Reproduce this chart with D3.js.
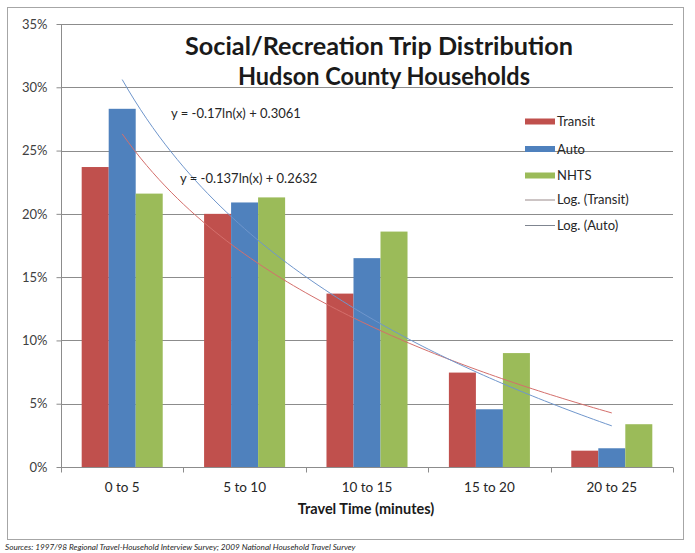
<!DOCTYPE html>
<html><head><meta charset="utf-8">
<script src="https://cdn.jsdelivr.net/npm/d3@7"></script>
<style>body{margin:0;background:#fff} svg{display:block}</style></head>
<body>
<script>
const categories = ["0 to 5","5 to 10","10 to 15","15 to 20","20 to 25"];
const seriesNames = ["Transit","Auto","NHTS"];
const seriesColors = ["#c0504d","#4f81bd","#9bbb59"];
const transit = [0.237,0.200,0.137,0.0746,0.0129];
const auto = [0.283,0.209,0.165,0.0456,0.0148];
const nhts = [0.216,0.213,0.186,0.090,0.0338];
const yTicks = [0,0.05,0.10,0.15,0.20,0.25,0.30,0.35];
const trendNames = ["Log. (Transit)","Log. (Auto)"];
const trendColors = ["#d46f6c","#6f96cc"];
const trendSlope = [-0.137,-0.17];
const trendIntercept = [0.2632,0.3061];
const trendLabels = ["y = -0.137ln(x) + 0.2632","y = -0.17ln(x) + 0.3061"];
const titleLines = ["Social/Recreation Trip Distribution","Hudson County Households"];
const xTitle = "Travel Time (minutes)";
const sourceText = "Sources: 1997/98 Regional Travel-Household Interview Survey; 2009 National Household Travel Survey";

const W = 695, H = 553;
const L = 61, R = 673, T = 24, B = 467;
const font = "Lato, 'Open Sans', sans-serif";

const svg = d3.select("body").append("svg").attr("width", W).attr("height", H)
  .style("font-family", font);

svg.append("rect").attr("x",7.5).attr("y",7.5).attr("width",676).attr("height",532)
  .attr("fill","#fff").attr("stroke","#a6a6a6");

const x = d3.scaleBand().domain(categories).range([L,R]).paddingInner(0.338).paddingOuter(0.169);
const xs = d3.scaleBand().domain(seriesNames).range([0,x.bandwidth()]);
const y = d3.scaleLinear().domain([0,0.35]).range([B,T]);

// gridlines
svg.append("g").selectAll("line").data(yTicks.filter(d=>d>0)).join("line")
  .attr("x1",L).attr("x2",R).attr("y1",d=>Math.round(y(d))+0.5).attr("y2",d=>Math.round(y(d))+0.5)
  .attr("stroke","#8c8c8c").attr("stroke-width",1);

// y axis
const yAxis = d3.axisLeft(y).tickValues(yTicks).tickFormat(d3.format(".0%")).tickSize(5).tickPadding(9);
const gy = svg.append("g").attr("transform",`translate(${L+0.5},0)`).call(yAxis);
gy.select(".domain").attr("stroke","#8c8c8c").attr("d",`M-0,${T}V${B}`);
gy.selectAll(".tick line").attr("stroke","#8c8c8c");
gy.selectAll(".tick text").attr("font-size",13).attr("fill","#404040").attr("font-family",font);

// bars
const data = [transit, auto, nhts];
categories.forEach((c,i)=>{
  seriesNames.forEach((s,j)=>{
    svg.append("rect")
      .attr("x", x(c)+xs(s)).attr("width", xs.bandwidth())
      .attr("y", y(data[j][i])).attr("height", B - y(data[j][i]))
      .attr("fill", seriesColors[j]);
  });
});

// x axis
const gx = svg.append("g").attr("transform",`translate(0,${B+0.5})`);
gx.append("line").attr("x1",L).attr("x2",R).attr("stroke","#8c8c8c");
const bounds = d3.range(categories.length+1).map(i => L + i*x.step());
gx.selectAll(".tk").data(bounds).join("line").attr("class","tk")
  .attr("x1",d=>Math.round(d)+0.5).attr("x2",d=>Math.round(d)+0.5).attr("y1",0).attr("y2",5).attr("stroke","#8c8c8c");
gx.selectAll("text").data(categories).join("text")
  .attr("x",d=>x(d)+x.bandwidth()/2).attr("y",24).attr("text-anchor","middle")
  .attr("font-size",13.5).attr("fill","#262626").text(d=>d);

// trendlines
const xt = d3.scaleLinear().domain([1,categories.length]).range([x(categories[0])+x.bandwidth()/2, x(categories[categories.length-1])+x.bandwidth()/2]);
const tvals = d3.range(1, categories.length+0.0001, 0.05);
trendSlope.forEach((a,k)=>{
  const line = d3.line().x(t=>xt(t)).y(t=>y(a*Math.log(t)+trendIntercept[k])).curve(d3.curveLinear);
  svg.append("path").attr("d", line(tvals)).attr("fill","none")
    .attr("stroke",trendColors[k]).attr("stroke-width",1);
});

// equation labels
svg.append("text").attr("x",171).attr("y",118).attr("font-size",13).attr("fill","#262626").text(trendLabels[1]);
svg.append("text").attr("x",180).attr("y",183).attr("font-size",13).attr("fill","#262626").text(trendLabels[0]);

// legend
const lg = svg.append("g");
const legY = [121.5,149,175.5,199.5,225];
seriesNames.forEach((s,j)=>{
  lg.append("rect").attr("x",525).attr("y",legY[j]-3).attr("width",30).attr("height",6).attr("fill",seriesColors[j]);
  lg.append("text").attr("x",557).attr("y",legY[j]+4.5).attr("font-size",13).attr("fill","#262626").text(s);
});
trendNames.forEach((s,k)=>{
  lg.append("line").attr("x1",525).attr("x2",555).attr("y1",legY[3+k]+0.5).attr("y2",legY[3+k]+0.5)
    .attr("stroke",k===0?"#9a8a8a":"#7f8590").attr("stroke-width",1);
  lg.append("text").attr("x",557).attr("y",legY[3+k]+4.5).attr("font-size",13).attr("fill","#262626").text(s);
});

// title
svg.append("text").attr("x",379).attr("y",55).attr("text-anchor","middle").attr("font-size",24.5).attr("font-weight","bold").attr("fill","#1a1a1a")
  .attr("textLength",388).attr("lengthAdjust","spacingAndGlyphs").text(titleLines[0]);
svg.append("text").attr("x",384).attr("y",85).attr("text-anchor","middle").attr("font-size",24.5).attr("font-weight","bold").attr("fill","#1a1a1a")
  .attr("textLength",292).attr("lengthAdjust","spacingAndGlyphs").text(titleLines[1]);

// axis title
svg.append("text").attr("x",366).attr("y",514).attr("text-anchor","middle").attr("font-size",14.5).attr("font-weight","bold").attr("fill","#1a1a1a").text(xTitle);

// source
svg.append("text").attr("x",5).attr("y",550).attr("font-size",8.2).attr("font-style","italic").attr("fill","#262626").text(sourceText);
</script>
</body></html>
